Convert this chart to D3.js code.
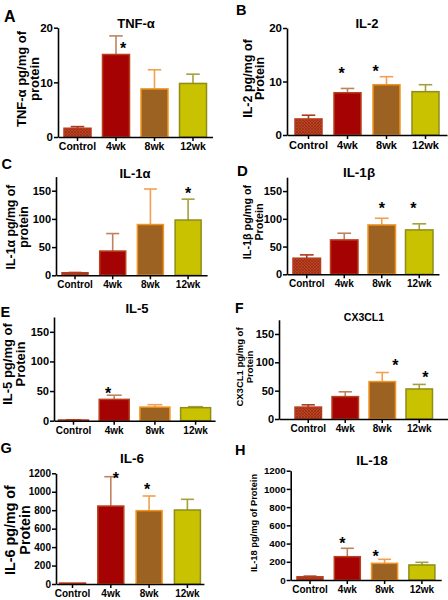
<!DOCTYPE html>
<html><head><meta charset="utf-8">
<script src="https://cdn.jsdelivr.net/npm/d3@7"></script>
<style>
html,body{margin:0;padding:0;background:#fff;}
svg{display:block;}
text{font-family:"Liberation Sans",Arial,sans-serif;font-weight:bold;fill:#000;}
</style></head>
<body>
<svg id="chart" width="448" height="600"></svg>
<script>
// ---------- DATA ----------
const categories = ["Control", "4wk", "8wk", "12wk"];

const tnfMean = [1.6, 15.1, 8.8, 9.8];
const tnfErr  = [0.3, 3.4, 3.5, 1.7];
const tnfStars = [null, 16.8, null, null];

const il2Mean = [3.0, 7.9, 9.4, 8.1];
const il2Err  = [0.7, 0.8, 1.5, 1.3];
const il2Stars = [null, 12.1, 12.5, null];

const il1aMean = [4.5, 43, 90, 98];
const il1aErr  = [0.5, 31, 63, 37];
const il1aStars = [null, null, null, 151];

const il1bMean = [29, 62, 89, 80];
const il1bErr  = [6, 12, 12, 11];
const il1bStars = [null, null, 125, 125];

const il5Mean = [1.2, 36, 23, 22];
const il5Err  = [0.3, 7, 4, 1.6];
const il5Stars = [null, 52, null, null];

const cx3Mean = [21, 39.5, 66, 53];
const cx3Err  = [4, 8.5, 16, 8];
const cx3Stars = [null, null, 101, 79];

const il6Mean = [10, 845, 795, 802];
const il6Err  = [0, 318, 159, 116];
const il6Stars = [null, 1180, 1062, null];

const il18Mean = [35, 256, 183, 165];
const il18Err  = [7, 92, 44, 29];
const il18Stars = [null, 440, 300, null];

const ticksSmall = [0, 10, 20];
const ticksMid = [0, 50, 100, 150];
const ticksBig = [0, 200, 400, 600, 800, 1000, 1200];

// ---------- STYLE ----------
const barFill   = ["url(#hatch)", "#a50303", "#9b6222", "#c9c200"];
const barStroke = ["#b53c1c", "#b8401c", "#f39420", "#8f8d18"];
const errColor  = ["#a83a22", "#c0825e", "#f2a050", "#a6a03c"];

const svg = d3.select("#chart");
const defs = svg.append("defs");
const pat = defs.append("pattern").attr("id", "hatch").attr("patternUnits", "userSpaceOnUse")
  .attr("width", 3).attr("height", 3);
pat.append("rect").attr("width", 3).attr("height", 3).attr("fill", "#bc4420");
pat.append("path").attr("d", "M0,3 L3,0 M0,0 L3,3").attr("stroke", "#8e2614").attr("stroke-width", 0.6);

// ---------- PANELS ----------
const panels = [
  {letter:"A", lx:4, ly:22, lsize:16, title:"TNF-α", tx:136, ty:28, tsize:13,
   mean:tnfMean, err:tnfErr, stars:tnfStars, starDx:[0,7,0,0], ticks:ticksSmall, yMax:20,
   axisX:58, L:64, s:38.5, w:27, y0:137, yTop:27.7, xlab:150, xsize:10.5, ysize:11.5,
   ylab:["TNF-α pg/mg of","protein"], ylx:[26,39], lyc:79, lsz:13},
  {letter:"B", lx:236, ly:15, lsize:14.5, title:"IL-2", tx:367, ty:28, tsize:13,
   mean:il2Mean, err:il2Err, stars:il2Stars, starDx:[0,-6,-11,0], ticks:ticksSmall, yMax:20,
   axisX:287, L:295, s:39, w:27, y0:135, yTop:28, xlab:149, xsize:11, ysize:11.5,
   ylab:["IL-2 pg/mg of","Protein"], ylx:[252,264], lyc:78.5, lsz:12.5},
  {letter:"C", lx:1.5, ly:168.5, lsize:14.5, title:"IL-1α", tx:135, ty:178, tsize:13,
   mean:il1aMean, err:il1aErr, stars:il1aStars, starDx:[0,0,0,0], ticks:ticksMid, yMax:175,
   axisX:56, L:62, s:37.7, w:26, y0:275.3, yTop:176.6, xlab:288, xsize:10, ysize:11,
   ylab:["IL-1α pg/mg of","protein"], ylx:[15,28], lyc:227, lsz:12.3},
  {letter:"D", lx:237, ly:176, lsize:15, title:"IL-1β", tx:359, ty:177, tsize:13.5,
   mean:il1bMean, err:il1bErr, stars:il1bStars, starDx:[0,0,0,-6], ticks:ticksMid, yMax:175,
   axisX:287, L:293, s:37.5, w:27.5, y0:274.3, yTop:177.2, xlab:287, xsize:10, ysize:11,
   ylab:["IL-1β pg/mg of","Protein"], ylx:[251,263], lyc:222, lsz:10.8},
  {letter:"E", lx:0.5, ly:317, lsize:14.5, title:"IL-5", tx:137, ty:313, tsize:13,
   mean:il5Mean, err:il5Err, stars:il5Stars, starDx:[0,-6,0,0], ticks:ticksMid, yMax:175,
   axisX:54, L:58.5, s:40.7, w:30, y0:420.7, yTop:317, xlab:434, xsize:10, ysize:11,
   ylab:["IL-5 pg/mg of","Protein"], ylx:[12,25], lyc:364, lsz:13},
  {letter:"F", lx:235, ly:313, lsize:14, title:"CX3CL1", tx:364, ty:320.5, tsize:10.5,
   mean:cx3Mean, err:cx3Err, stars:cx3Stars, starDx:[0,0,13,6], ticks:ticksMid, yMax:175,
   axisX:279, L:295, s:37, w:26.5, y0:419, yTop:319.8, xlab:432, xsize:10, ysize:11,
   ylab:["CX3CL1 pg/mg of","Protein"], ylx:[243,253], lyc:367, lsz:9.5},
  {letter:"G", lx:0.5, ly:453, lsize:14.5, title:"IL-6", tx:132, ty:463, tsize:13.5,
   mean:il6Mean, err:il6Err, stars:il6Stars, starDx:[0,5,-2,0], ticks:ticksBig, yMax:1200,
   axisX:56, L:59.5, s:38.3, w:26, y0:584, yTop:473.3, xlab:597, xsize:10, ysize:10,
   ylab:["IL-6 pg/mg of","Protein"], ylx:[15,29.5], lyc:530, lsz:14.3},
  {letter:"H", lx:235, ly:455, lsize:14.5, title:"IL-18", tx:372, ty:465, tsize:13.5,
   mean:il18Mean, err:il18Err, stars:il18Stars, starDx:[0,-5,-9,0], ticks:ticksBig, yMax:1200,
   axisX:290.7, L:297, s:37.3, w:26, y0:580, yTop:470.7, xlab:592.5, xsize:10, ysize:9.8,
   ylab:["IL-18 pg/mg of Protein"], ylx:[257], lyc:523, lsz:9.3}
];

panels.forEach(p => {
  const g = svg.append("g");
  const pi = 1 - p.w / p.s;
  const po = (p.L - p.axisX) / p.s;
  const xEnd = p.axisX + p.s * (categories.length - pi + 2 * po);
  const x = d3.scaleBand().domain(categories).range([p.axisX, xEnd]).paddingInner(pi).paddingOuter(po);
  const y = d3.scaleLinear().domain([0, p.yMax]).range([p.y0, p.yTop]);

  // letter & title
  g.append("text").attr("x", p.lx).attr("y", p.ly).attr("font-size", p.lsize).text(p.letter);
  g.append("text").attr("x", p.tx).attr("y", p.ty).attr("text-anchor", "middle")
    .attr("font-size", p.tsize).text(p.title);

  // y label
  p.ylab.forEach((t, i) => {
    g.append("text").attr("transform", `translate(${p.ylx[i]},${p.lyc}) rotate(-90)`)
      .attr("text-anchor", "middle").attr("font-size", p.lsz).text(t);
  });

  // error bars (upper only)
  const capW = p.w * 0.5;
  categories.forEach((c, i) => {
    const cx = x(c) + x.bandwidth() / 2;
    const top = y(p.mean[i] + p.err[i]);
    if (p.err[i] > 0) {
      g.append("line").attr("x1", cx).attr("x2", cx).attr("y1", y(p.mean[i])).attr("y2", top)
        .attr("stroke", errColor[i]).attr("stroke-width", 1.6);
      g.append("line").attr("x1", cx - capW / 2).attr("x2", cx + capW / 2).attr("y1", top).attr("y2", top)
        .attr("stroke", errColor[i]).attr("stroke-width", 1.6);
    }
  });

  // bars
  g.selectAll("rect.bar").data(categories).join("rect").attr("class", "bar")
    .attr("x", c => x(c)).attr("width", x.bandwidth())
    .attr("y", (c, i) => y(p.mean[i])).attr("height", (c, i) => p.y0 - y(p.mean[i]))
    .attr("fill", (c, i) => barFill[i]).attr("stroke", (c, i) => barStroke[i]).attr("stroke-width", 1.5);

  // stars
  categories.forEach((c, i) => {
    if (p.stars[i] != null) {
      g.append("text").attr("x", x(c) + x.bandwidth() / 2 + p.starDx[i]).attr("y", y(p.stars[i]) + 9)
        .attr("text-anchor", "middle").attr("font-size", 16).text("*");
    }
  });

  // axes
  const ya = g.append("g").attr("transform", `translate(${p.axisX},0)`)
    .call(d3.axisLeft(y).tickValues(p.ticks).tickSize(4).tickSizeOuter(0).tickPadding(1).tickFormat(d3.format("d")));
  ya.selectAll("text").attr("font-size", p.ysize).style("font-family", '"Liberation Sans",Arial,sans-serif').style("font-weight", "bold");
  ya.selectAll("line").attr("stroke", "#000").attr("stroke-width", 1.5);
  ya.select(".domain").attr("stroke", "#000").attr("stroke-width", 1.6);

  const xa = g.append("g").attr("transform", `translate(0,${p.y0})`)
    .call(d3.axisBottom(x).tickSize(4).tickSizeOuter(0));
  xa.selectAll("text").attr("font-size", p.xsize).attr("y", p.xlab - p.y0).attr("dy", 0)
    .style("font-family", '"Liberation Sans",Arial,sans-serif').style("font-weight", "bold");
  xa.selectAll("line").attr("stroke", "#000").attr("stroke-width", 1.5);
  xa.select(".domain").attr("stroke", "#000").attr("stroke-width", 1.6);
});
</script>
</body></html>
